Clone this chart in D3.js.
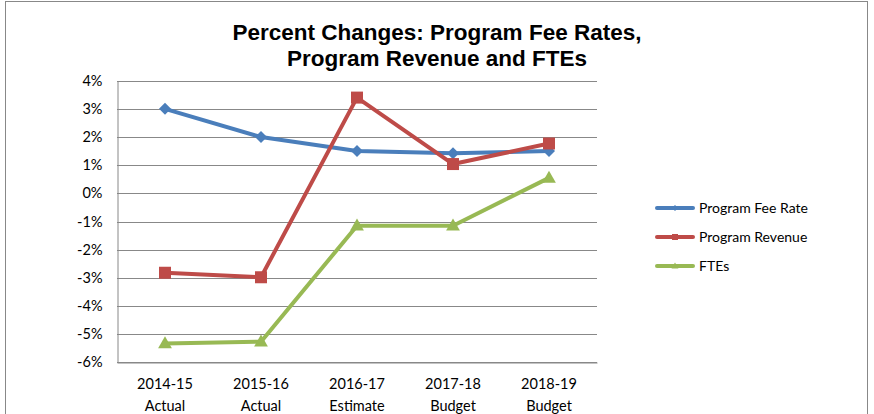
<!DOCTYPE html>
<html>
<head>
<meta charset="utf-8">
<script src="https://cdn.jsdelivr.net/npm/d3@7"></script>
<style>
  body { margin: 0; background: #fff; }
  svg { display: block; }
</style>
</head>
<body>
<div id="chart"></div>
<script>
const categories = ["2014-15|Actual", "2015-16|Actual", "2016-17|Estimate", "2017-18|Budget", "2018-19|Budget"];
const feeRate = [3.0, 2.0, 1.5, 1.42, 1.5];
const revenue = [-2.82, -2.98, 3.4, 1.04, 1.77];
const ftes = [-5.33, -5.27, -1.15, -1.15, 0.55];
const yTicks = [-6, -5, -4, -3, -2, -1, 0, 1, 2, 3, 4];

const series = [
  { name: "Program Fee Rate", values: feeRate, color: "#4a7ebb", marker: "diamond" },
  { name: "Program Revenue", values: revenue, color: "#be4b48", marker: "square" },
  { name: "FTEs", values: ftes, color: "#98b954", marker: "triangle" }
];

const w = 874, h = 414;
const plotLeft = 117, plotRight = 597, plotTop = 80.7, plotBottom = 362.3;

const svg = d3.select("#chart").append("svg")
  .attr("width", w)
  .attr("height", h);

// outer border
svg.append("rect")
  .attr("x", 5.5).attr("y", 1.5)
  .attr("width", 862).attr("height", 430)
  .attr("fill", "none")
  .attr("stroke", "#888")
  .attr("stroke-width", 1);

svg.append("text")
  .attr("x", 437).attr("y", 40)
  .attr("text-anchor", "middle")
  .style("font-family", "Liberation Sans, Arial, sans-serif")
  .style("font-weight", "bold")
  .style("font-size", "22.5px")
  .text("Percent Changes: Program Fee Rates,");
svg.append("text")
  .attr("x", 437).attr("y", 66)
  .attr("text-anchor", "middle")
  .style("font-family", "Liberation Sans, Arial, sans-serif")
  .style("font-weight", "bold")
  .style("font-size", "22.5px")
  .text("Program Revenue and FTEs");

const x = d3.scaleBand().domain(categories).range([plotLeft, plotRight]);
const y = d3.scaleLinear().domain([-6, 4]).range([plotBottom, plotTop]);

// gridlines
svg.append("g")
  .selectAll("line")
  .data(yTicks)
  .enter()
  .append("line")
  .attr("x1", plotLeft).attr("x2", plotRight)
  .attr("y1", d => Math.round(y(d)) + 0.5)
  .attr("y2", d => Math.round(y(d)) + 0.5)
  .attr("stroke", "#888")
  .attr("stroke-width", 1);

const yAxis = d3.axisLeft(y)
  .tickValues(yTicks)
  .tickSize(0)
  .tickPadding(15)
  .tickFormat(d => d + "%");

const gy = svg.append("g")
  .attr("transform", "translate(" + (plotLeft + 0.5) + ",0)")
  .call(yAxis);
gy.select(".domain").attr("stroke", "#888");
gy.selectAll("text")
  .style("font-family", "Lato, sans-serif")
  .style("font-size", "14.5px")
  .attr("fill", "#000");

const xAxis = d3.axisBottom(x).tickSize(0).tickFormat("");
const gx = svg.append("g")
  .attr("transform", "translate(0," + (Math.round(plotBottom) + 0.5) + ")")
  .call(xAxis);
gx.select(".domain").attr("stroke", "#888");
gx.selectAll(".tick").each(function(d) {
  const parts = d.split("|");
  const t = d3.select(this).append("text")
    .attr("text-anchor", "middle")
    .attr("fill", "#000")
    .style("font-family", "Lato, sans-serif")
    .style("font-size", "14.5px");
  t.append("tspan").attr("x", 0).attr("y", 26).text(parts[0]);
  t.append("tspan").attr("x", 0).attr("y", 48).text(parts[1]);
});

const cx = (i) => x(categories[i]) + x.bandwidth() / 2;

function drawMarker(g, type, px, py, color, s) {
  if (type === "diamond") {
    g.append("path")
      .attr("d", `M${px},${py - s}L${px + s},${py}L${px},${py + s}L${px - s},${py}Z`)
      .attr("fill", color);
  } else if (type === "square") {
    g.append("rect")
      .attr("x", px - s).attr("y", py - s)
      .attr("width", 2 * s).attr("height", 2 * s)
      .attr("fill", color);
  } else {
    g.append("path")
      .attr("d", `M${px},${py - s * 1.2}L${px + s * 1.15},${py + s * 0.8}L${px - s * 1.15},${py + s * 0.8}Z`)
      .attr("fill", color);
  }
}

const line = d3.line()
  .x((d, i) => cx(i))
  .y(d => y(d));

series.forEach(s => {
  const g = svg.append("g");
  g.append("path")
    .datum(s.values)
    .attr("d", line)
    .attr("fill", "none")
    .attr("stroke", s.color)
    .attr("stroke-width", 4)
    .attr("stroke-linejoin", "round");
  s.values.forEach((v, i) => {
    drawMarker(g, s.marker, cx(i), y(v), s.color, 6);
  });
});

// legend
const legend = svg.append("g");
series.forEach((s, i) => {
  const ly = 208 + i * 29;
  legend.append("line")
    .attr("x1", 657).attr("x2", 693)
    .attr("y1", ly).attr("y2", ly)
    .attr("stroke", s.color)
    .attr("stroke-width", 4)
    .attr("stroke-linecap", "round");
  drawMarker(legend, s.marker, 675, ly, s.color, 3);
  legend.append("text")
    .attr("x", 699).attr("y", ly + 5)
    .style("font-family", "Lato, sans-serif")
    .style("font-size", "14px")
    .text(s.name);
});
</script>
</body>
</html>
